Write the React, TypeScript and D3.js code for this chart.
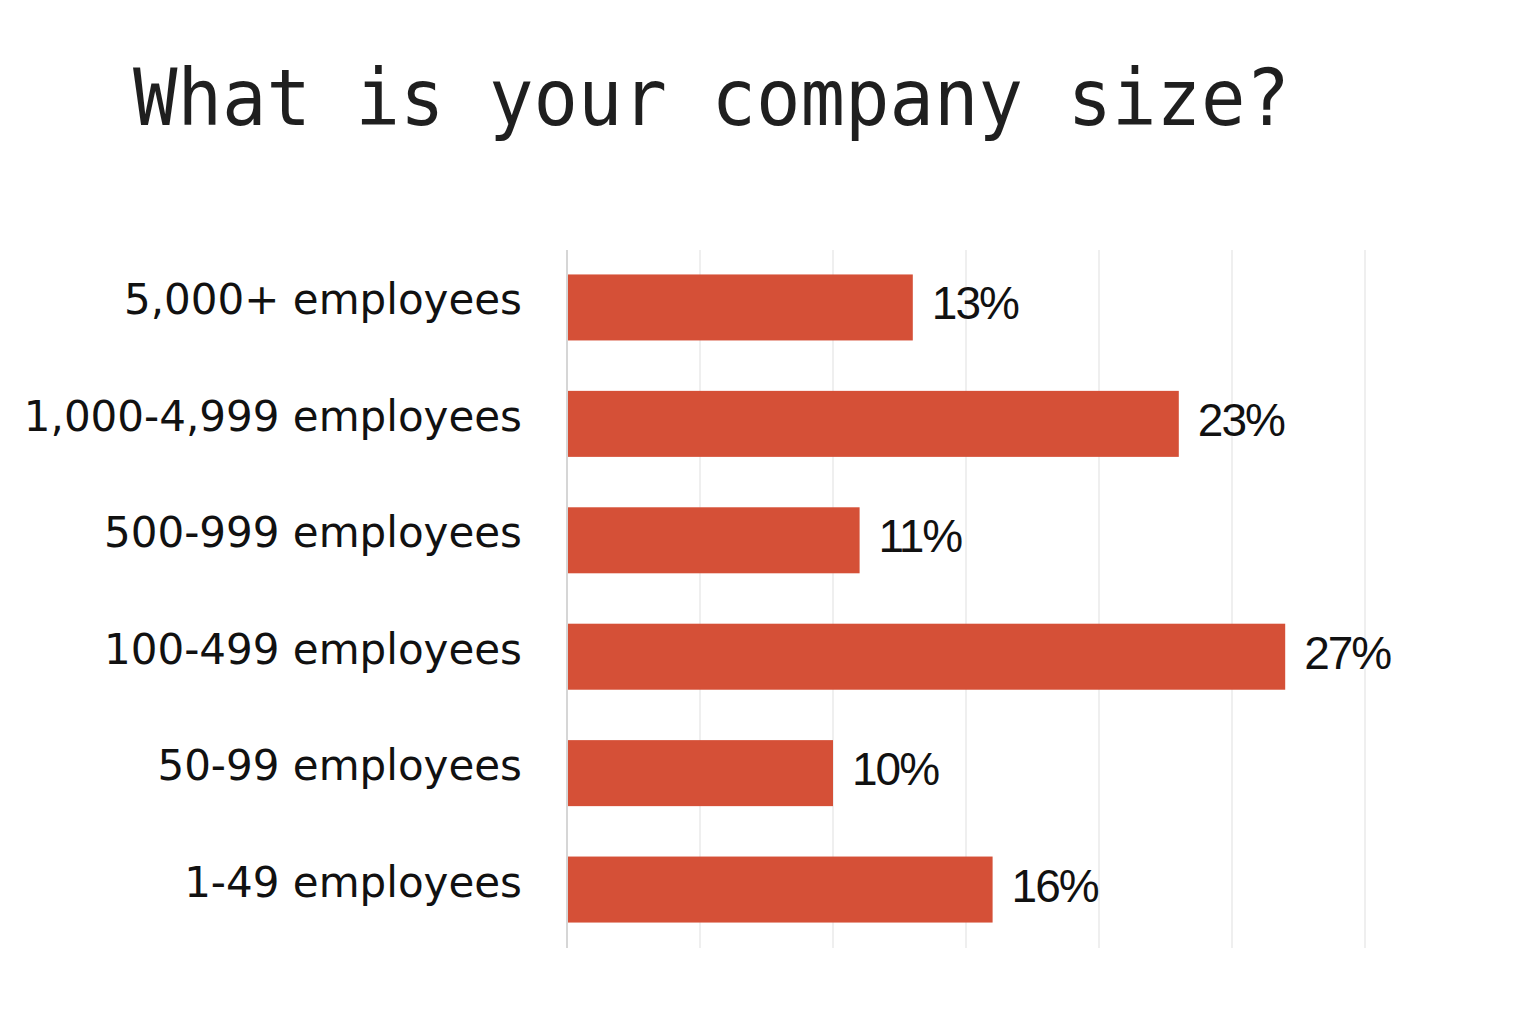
import { useEffect, useRef } from 'react';
import * as d3 from 'd3';

const categories = [
  '5,000+ employees',
  '1,000-4,999 employees',
  '500-999 employees',
  '100-499 employees',
  '50-99 employees',
  '1-49 employees',
];
const shares = [13, 23, 11, 27, 10, 16];
const gridTicks = [0, 5, 10, 15, 20, 25, 30];

export default function App() {
  const svgRef = useRef<SVGSVGElement>(null);

  useEffect(() => {
    if (!svgRef.current) return;
    const svg = d3.select(svgRef.current);
    svg.selectAll('*').remove();

    const width = 1520;
    const height = 1024;
    svg.attr('width', width).attr('height', height);

    const x = d3.scaleLinear().domain([0, 30]).range([567, 1365]);
    const y = d3
      .scaleBand<string>()
      .domain(categories)
      .range([250, 947])
      .paddingInner(0.433)
      .paddingOuter(0.21);

    // title
    svg
      .append('text')
      .attr('x', 133)
      .attr('y', 125)
      .attr('font-family', '"DejaVu Sans Mono", monospace')
      .attr('font-size', 78)
      .attr('fill', '#1f1f1f')
      .attr('textLength', 1157)
      .attr('lengthAdjust', 'spacingAndGlyphs')
      .text('What is your company size?');

    // grid
    svg
      .append('g')
      .selectAll('line')
      .data(gridTicks)
      .join('line')
      .attr('x1', (d) => x(d))
      .attr('x2', (d) => x(d))
      .attr('y1', 250)
      .attr('y2', 948)
      .attr('stroke', (d) => (d === 0 ? '#d6d6d6' : '#efefef'))
      .attr('stroke-width', 2);

    // bars
    svg
      .append('g')
      .selectAll('rect')
      .data(shares)
      .join('rect')
      .attr('x', x(0) + 1)
      .attr('y', (_, i) => y(categories[i])!)
      .attr('width', (d) => x(d) - x(0) - 1)
      .attr('height', y.bandwidth())
      .attr('fill', '#d55037');

    // category labels
    svg
      .append('g')
      .selectAll('text')
      .data(categories)
      .join('text')
      .attr('x', 522)
      .attr('y', (d) => y(d)! + y.bandwidth() / 2 + 7)
      .attr('text-anchor', 'end')
      .attr('font-family', '"DejaVu Sans", sans-serif')
      .attr('font-size', 42)
      .attr('fill', '#111')
      .text((d) => d);

    // value labels
    svg
      .append('g')
      .selectAll('text')
      .data(shares)
      .join('text')
      .attr('x', (d) => x(d) + 19)
      .attr('y', (_, i) => y(categories[i])! + y.bandwidth() / 2 + 12)
      .attr('font-family', '"Liberation Sans", Arial, sans-serif')
      .attr('font-size', 46)
      .attr('letter-spacing', -2)
      .attr('fill', '#111')
      .text((d) => `${d}%`);
  }, []);

  return (
    <div style={{ position: 'absolute', left: 0, top: 0, background: '#fff' }}>
      <svg ref={svgRef} style={{ display: 'block' }}></svg>
    </div>
  );
}
